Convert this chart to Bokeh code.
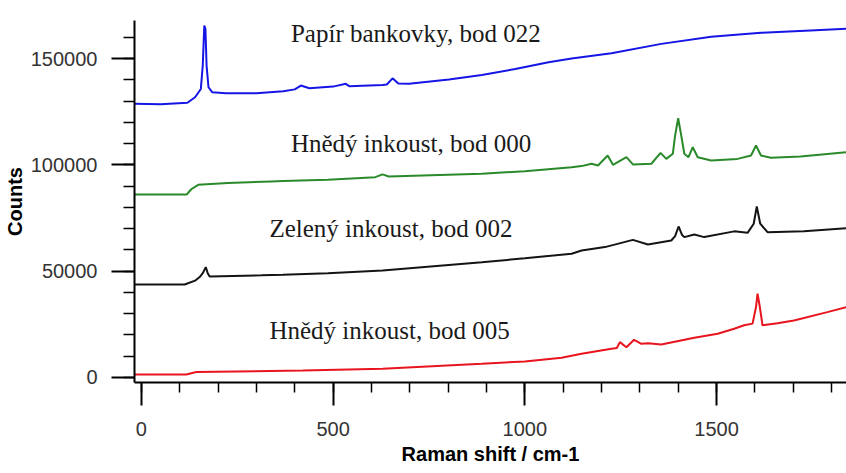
from bokeh.plotting import figure
from bokeh.models import Label, SingleIntervalTicker, Range1d, BasicTickFormatter
from bokeh.embed import file_html
from bokeh.resources import INLINE

# ---- data ----
paper_x = [-18, 50, 120, 140, 155, 160, 164, 167, 170, 175, 185, 220, 300, 370, 400, 416, 438,
           500, 533, 542, 629, 640, 655, 670, 698, 802, 888, 975, 1062, 1122, 1226, 1356, 1486,
           1616, 1745, 1839]
paper_y = [128700, 128500, 129200, 131800, 135700, 146700, 165500, 164000, 146700, 136500, 134100,
           133700, 133700, 134600, 135500, 137300, 136000, 136800, 138100, 137000, 137600, 137800,
           140700, 138300, 138100, 140100, 142300, 145100, 148300, 150000, 152500, 156900, 160300,
           162100, 163200, 164000]

brown0_x = [-18, 118, 130, 148, 226, 339, 369, 486, 610, 629, 645, 888, 1000, 1122, 1148, 1174,
            1191, 1216, 1230, 1265, 1282, 1330, 1354, 1369, 1386, 1392, 1400, 1408, 1416, 1427,
            1438, 1451, 1486, 1555, 1590, 1603, 1616, 1642, 1719, 1839]
brown0_y = [86000, 86000, 88500, 90600, 91400, 92200, 92400, 93000, 94200, 95500, 94500, 95800,
            97000, 98900, 99400, 100500, 99700, 104400, 100000, 103600, 100200, 100500, 105600,
            102800, 105200, 113800, 121900, 113800, 105200, 103600, 108300, 103600, 102000,
            102800, 104400, 109100, 104400, 103300, 103900, 105900]

green_x = [-18, 113, 140, 152, 160, 168, 173, 178, 313, 369, 486, 629, 888, 1000, 1122, 1148,
           1209, 1282, 1321, 1382, 1392, 1401, 1410, 1416, 1442, 1468, 1546, 1581, 1597, 1605,
           1614, 1633, 1728, 1839]
green_y = [43700, 43700, 45500, 47200, 49000, 51900, 49000, 47500, 48000, 48300, 49000, 50300,
           54200, 56000, 58200, 59700, 61300, 64700, 62500, 64400, 66500, 71000, 67000, 66000,
           67200, 66000, 68700, 68000, 72300, 80400, 72300, 68300, 68800, 70200]

brown5_x = [-18, 117, 143, 421, 629, 888, 1000, 1096, 1148, 1226, 1240, 1248, 1265, 1285, 1304,
            1321, 1356, 1442, 1503, 1546, 1572, 1594, 1603, 1607, 1613, 1620, 1659, 1702, 1789,
            1839]
brown5_y = [1400, 1400, 2500, 3300, 4100, 6400, 7500, 9200, 11100, 13500, 13800, 16600, 14200,
            17700, 15800, 16100, 15500, 18700, 20500, 22900, 24500, 25300, 33100, 39400, 33100,
            24500, 25500, 26800, 30700, 33100]

labels = ["Papír bankovky, bod 022", "Hnědý inkoust, bod 000",
          "Zelený inkoust, bod 002", "Hnědý inkoust, bod 005"]
label_x = [390, 390, 334, 334]
label_y = [161600, 110000, 69900, 22100]

colors = ["#1515e6", "#2a8a2a", "#141414", "#e8141e"]

p = figure(width=846, height=473, output_backend="svg", toolbar_location=None,
           x_range=Range1d(-18, 1839), y_range=Range1d(-2400, 167900),
           min_border_left=131, min_border_top=20, min_border_right=0, min_border_bottom=91,
           background_fill_color="white", border_fill_color="white")
p.outline_line_color = None
p.xgrid.visible = False
p.ygrid.visible = False

for xs, ys, c in [(paper_x, paper_y, colors[0]), (brown0_x, brown0_y, colors[1]),
                  (green_x, green_y, colors[2]), (brown5_x, brown5_y, colors[3])]:
    p.line(xs, ys, line_color=c, line_width=2)

for t, lx, ly in zip(labels, label_x, label_y):
    p.add_layout(Label(x=lx, y=ly, text=t, text_font="Liberation Serif",
                       text_font_size="25px", text_color="#1a1a1a",
                       text_baseline="alphabetic", text_align="left"))

xa = p.xaxis[0]
xa.ticker = SingleIntervalTicker(interval=500, num_minor_ticks=5)
xa.axis_label = "Raman shift / cm-1"
ya = p.yaxis[0]
ya.ticker = SingleIntervalTicker(interval=50000, num_minor_ticks=5)
ya.formatter = BasicTickFormatter(use_scientific=False)
ya.axis_label = "Counts"

for ax, tick_out, minor_out, stand, lab_stand in [(xa, 23, 10, 16, 4), (ya, 23, 11, 14, 2)]:
    ax.axis_line_color = "black"
    ax.axis_line_width = 2
    ax.major_tick_line_color = "black"
    ax.major_tick_line_width = 2
    ax.minor_tick_line_color = "black"
    ax.minor_tick_line_width = 1.5
    ax.major_tick_in = 0
    ax.major_tick_out = tick_out
    ax.minor_tick_in = 0
    ax.minor_tick_out = minor_out
    ax.major_label_standoff = stand
    ax.major_label_text_font = "Liberation Sans"
    ax.major_label_text_font_size = "20px"
    ax.major_label_text_color = "#333333"
    ax.axis_label_text_font = "Liberation Sans"
    ax.axis_label_text_font_size = "20px"
    ax.axis_label_text_font_style = "bold"
    ax.axis_label_text_color = "black"
    ax.axis_label_standoff = lab_stand

open("out.html", "w").write(file_html(p, INLINE))
